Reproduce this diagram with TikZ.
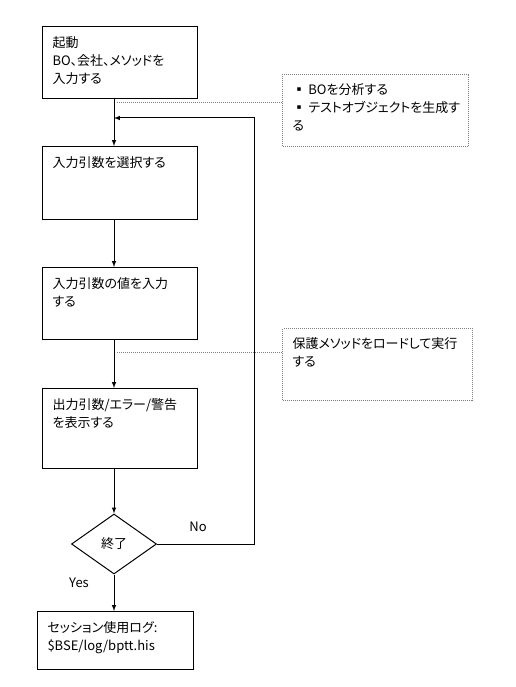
\documentclass[tikz,border=0pt]{standalone}
\usepackage{fontspec}
\setmainfont[RawFeature=+palt]{Noto Sans CJK JP}
\usepackage{tikz}
\usetikzlibrary{shapes.geometric}
\tikzset{>=latex}
\tikzset{
    stepbox/.style={draw,line width=1pt,inner xsep=10pt,inner ysep=10pt,anchor=north west},
    notebox/.style={draw=gray,dash pattern=on 1pt off 1pt,line width=1pt,inner xsep=10pt,inner ysep=9pt,anchor=north west},
    decision/.style={draw,diamond,line width=1pt,inner sep=0pt,minimum width=85pt,minimum height=60pt},
    flow/.style={->,line width=1pt},
    noteline/.style={gray,dash pattern=on 1pt off 1pt,line width=1pt}
}
\newcommand{\boxtext}[3]{\parbox[t][#2pt][t]{#1pt}{\raggedright #3}}

\begin{document}
\begin{tikzpicture}[x=1pt,y=-1pt,font=\fontsize{13}{18}\selectfont]
            \useasboundingbox (0,0) rectangle (515,687);
            \node[stepbox] (start) at (42,26) {\boxtext{135}{52}{起動\\BO、会社、メソッドを\\入力する}};
            \node[stepbox] (select) at (42,146) {\boxtext{135}{53}{入力引数を選択する}};
            \node[stepbox] (value) at (42,267) {\boxtext{135}{52}{入力引数の値を入力\\する}};
            \node[stepbox] (show) at (42,388) {\boxtext{135}{60}{出力引数/エラー/警告\\を表示する}};
            \node[decision] (stop) at (114,544) {終了};
            \node[stepbox] (log) at (37,611) {\boxtext{136}{38}{セッション使用ログ:\\\$BSE/log/bptt.his}};
            \node[notebox] (note1) at (282,74) {\boxtext{166}{54}{\mbox{▪ BOを分析する}\\\mbox{▪ テストオブジェクトを生成す}\\る}};
            \node[notebox] (note2) at (282,328) {\boxtext{170}{54}{\mbox{保護メソッドをロードして実行}\\する}};
            \node (no) at (198,527) {No};
            \node (yes) at (79,583) {Yes};
            \coordinate (back) at (114,118);
            \coordinate (loop) at (254,0);
            \coordinate (tap1) at (117,103);
            \coordinate (tap2) at (117,352);
            \draw[flow] (start.south -| stop) -- (select.north -| stop);
            \draw[flow] (select.south -| stop) -- (value.north -| stop);
            \draw[flow] (value.south -| stop) -- (show.north -| stop);
            \draw[flow] (show.south -| stop) -- (stop.north);
            \draw[flow] (stop.south) -- (log.north -| stop);
            \draw[flow] (stop.east) -| (loop |- back) -- (back);
            \draw[noteline] (tap1) -- (tap1 -| note1.west);
            \draw[noteline] (tap2) -- (tap2 -| note2.west);
\end{tikzpicture}
\end{document}
